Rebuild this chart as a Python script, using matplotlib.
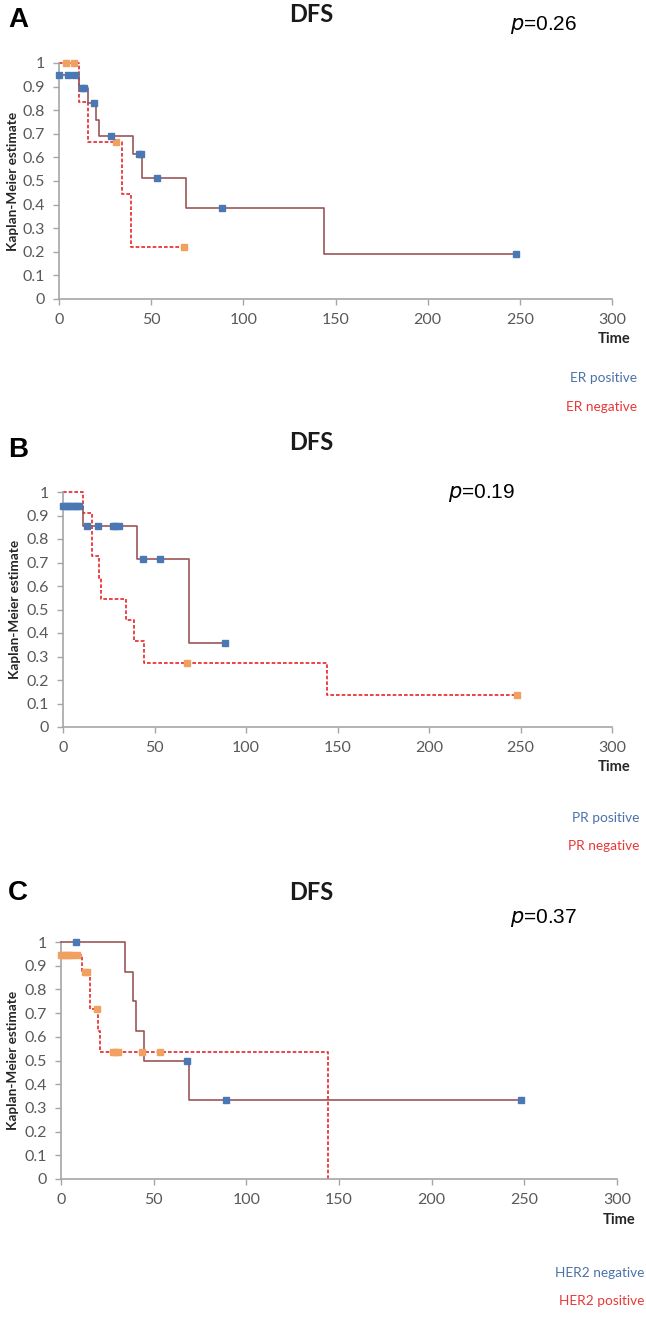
import numpy as np
import matplotlib
matplotlib.use("Agg")
import matplotlib.pyplot as plt

# ---- data (time, KM estimate) ----
# Panel A: ER status
er_pos_t = [0, 11, 16, 20.3, 21.5, 40, 44.8, 68.8, 144, 248]
er_pos_s = [0.95, 0.893, 0.829, 0.758, 0.691, 0.614, 0.512, 0.384, 0.192, 0.192]
er_pos_cens = [0, 4.7, 8.6, 12.6, 13.5, 19.1, 28.2, 43.5, 44.3, 53, 88.5, 248]

er_neg_t = [0, 10.6, 15.9, 34.3, 38.9, 67.7]
er_neg_s = [1.0, 0.833, 0.667, 0.444, 0.222, 0.222]
er_neg_cens = [3.6, 8, 30.8, 67.7]

# Panel B: PR status
pr_pos_t = [0, 10.7, 40.2, 69, 88.7]
pr_pos_s = [0.94, 0.857, 0.714, 0.357, 0.357]
pr_pos_cens = [0, 1.5, 3, 4.5, 6, 7.5, 9, 12.9, 18.9, 27.5, 28.5, 30.5, 43.8, 53, 88.7]

pr_neg_t = [0, 10.7, 15.6, 19.8, 20.7, 34.4, 38.9, 44.2, 144, 248]
pr_neg_s = [1.0, 0.909, 0.727, 0.636, 0.545, 0.455, 0.364, 0.273, 0.136, 0.136]
pr_neg_cens = [67.8, 248]

# Panel C: HER2 status
her2_neg_t = [0, 34.3, 38.8, 40.3, 44.6, 69.2, 248]
her2_neg_s = [1.0, 0.875, 0.75, 0.625, 0.5, 0.333, 0.333]
her2_neg_cens = [8.3, 68, 88.8, 248]

her2_pos_t = [0, 11.1, 15.8, 20.2, 21.2, 144]
her2_pos_s = [0.947, 0.874, 0.716, 0.626, 0.536, 0.0]
her2_pos_cens = [0, 1.5, 3, 4.5, 6, 8.5, 12.8, 14, 19.2, 28.2, 29.2, 30.9, 43.5, 53.4]

panels = [
    ("A", "p=0.26", ("ER positive", "ER negative"),
     (er_pos_t, er_pos_s, er_pos_cens), (er_neg_t, er_neg_s, er_neg_cens)),
    ("B", "p=0.19", ("PR positive", "PR negative"),
     (pr_pos_t, pr_pos_s, pr_pos_cens), (pr_neg_t, pr_neg_s, pr_neg_cens)),
    ("C", "p=0.37", ("HER2 negative", "HER2 positive"),
     (her2_neg_t, her2_neg_s, her2_neg_cens), (her2_pos_t, her2_pos_s, her2_pos_cens)),
]

# ---- layout in pixels of the 646x1339 reference ----
W, H = 646, 1339
# (x0, x300, y_top(=1), y_bottom(=0))
axes_px = [(59, 612, 63, 299), (63, 612, 492, 727), (61, 617, 942, 1179)]
ylabel_x = [13, 15, 13]
letter_y = [20, 450, 893]
title_y = [14, 442, 892]
p_pos = [(510, 25), (448, 493), (510, 918)]
time_y = [339, 767, 1220]
leg_y = [(378, 407), (818, 846), (1273, 1301)]
leg_right = [637, 639, 644]

SOLID = "#9a5656"
DASH = "#e8262a"
BLUE = "#4a78b5"
ORANGE = "#f0a060"
GREY = "#595959"
SPINE = "#a6a6a6"
CAL = ["Lato", "DejaVu Sans"]
ARIAL = ["Liberation Sans", "DejaVu Sans"]

fig = plt.figure(figsize=(W / 100, H / 100), dpi=100)
fig.patch.set_facecolor("white")


def step_at(t, s, x):
    i = np.searchsorted(np.asarray(t), x, side="right") - 1
    return np.asarray(s)[np.clip(i, 0, len(s) - 1)]


for k, (letter, ptxt, labels, a, b) in enumerate(panels):
    x0, x1, yt, yb = axes_px[k]
    ax = fig.add_axes([x0 / W, 1 - yb / H, (x1 - x0) / W, (yb - yt) / H])
    ax.set_xlim(0, 300)
    ax.set_ylim(0, 1)
    ax.patch.set_alpha(0)

    # solid series (first legend entry)
    t, s, c = a
    ax.step(t, s, where="post", color=SOLID, lw=1.2, zorder=3, clip_on=False)
    ax.plot(c, step_at(t, s, c), "s", color=BLUE, ms=4.3, zorder=5, clip_on=False)
    # dashed series
    t, s, c = b
    ax.step(t, s, where="post", color=DASH, lw=1.2, ls=(0, (2.2, 1.2)), zorder=2, clip_on=False)
    ax.plot(c, step_at(t, s, c), "s", color=ORANGE, ms=4.3, zorder=4, clip_on=False)

    for sp in ["top", "right"]:
        ax.spines[sp].set_visible(False)
    for sp in ["left", "bottom"]:
        ax.spines[sp].set_color(SPINE)
        ax.spines[sp].set_linewidth(1.2)
    ax.set_xticks(np.arange(0, 301, 50))
    yt_vals = np.round(np.arange(0, 1.01, 0.1), 1)
    ax.set_yticks(yt_vals)
    ax.set_yticklabels(["%g" % v for v in yt_vals])
    ax.tick_params(colors=SPINE, labelcolor=GREY, length=4, width=1.0, labelsize=11.5, pad=6)
    for lab in ax.get_xticklabels() + ax.get_yticklabels():
        lab.set_family(CAL)
    ax.set_ylabel("Kaplan-Meier estimate", fontsize=9.8, fontweight="bold", family=CAL,
                  color="#262626", va="center")
    ax.yaxis.set_label_coords((ylabel_x[k] - x0) / (x1 - x0), 0.5)

    # panel texts
    fig.text(8 / W, 1 - letter_y[k] / H, letter, fontsize=20, fontweight="bold",
             family=ARIAL, va="center", ha="left")
    fig.text(311 / W, 1 - title_y[k] / H, "DFS", fontsize=17, fontweight="bold",
             family=CAL, va="center", ha="center", color="#1a1a1a")
    px, py = p_pos[k]
    fig.text(px / W, 1 - py / H, r"$\it{p}$" + ptxt[1:], fontsize=15, family=ARIAL,
             va="center", ha="left")
    fig.text(x1 / W + 2 / W, 1 - time_y[k] / H, "Time", fontsize=10.5, fontweight="bold",
             family=CAL, va="center", ha="center", color="#262626")
    fig.text(leg_right[k] / W, 1 - leg_y[k][0] / H, labels[0], fontsize=9.8, family=CAL,
             color="#4a72a8", va="center", ha="right")
    fig.text(leg_right[k] / W, 1 - leg_y[k][1] / H, labels[1], fontsize=9.8, family=CAL,
             color="#e83838", va="center", ha="right")

fig.savefig("out.png", dpi=100, facecolor="white")
